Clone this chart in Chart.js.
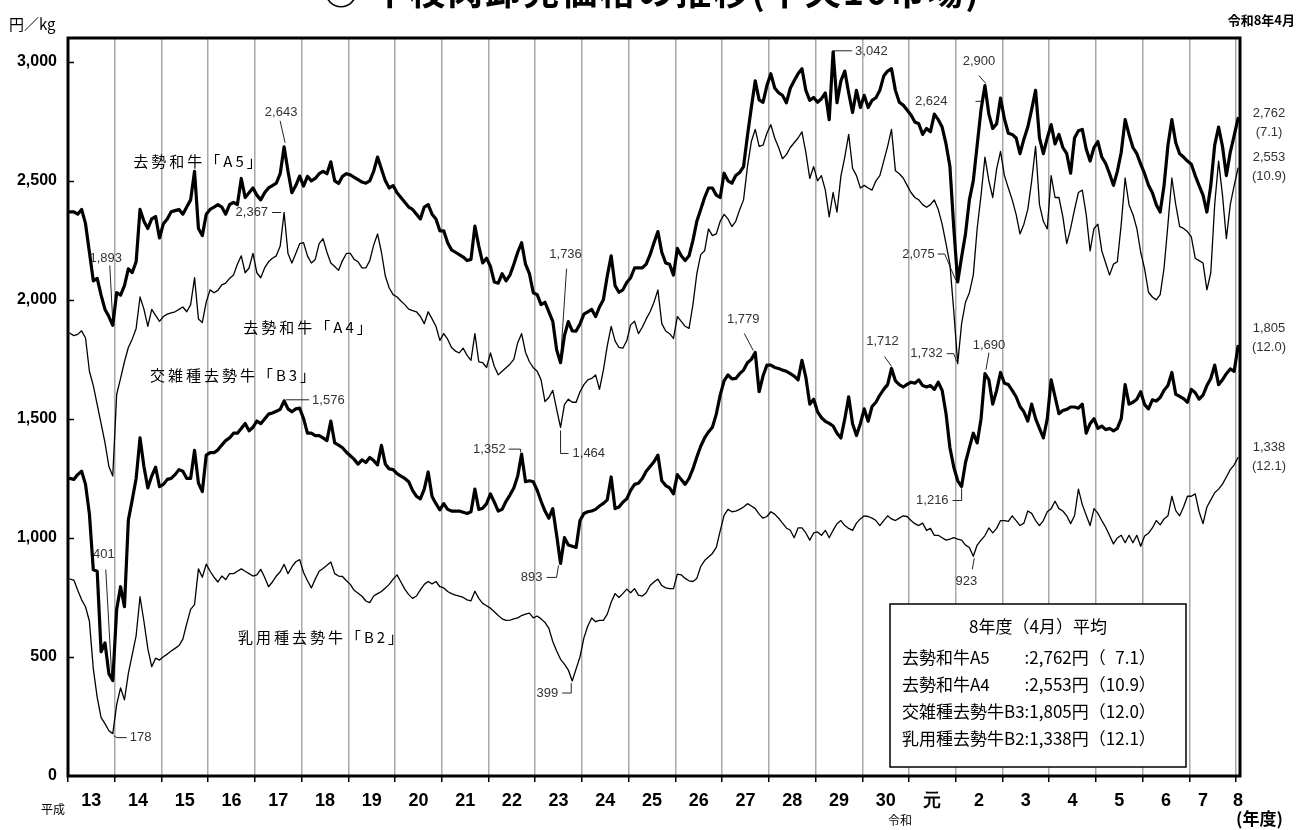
<!DOCTYPE html>
<html>
<head>
<meta charset="utf-8">
<script src="https://cdn.jsdelivr.net/npm/chart.js@4.4.1/dist/chart.umd.min.js"></script>
<style>
  body { margin: 0; background: #fff; }
  #wrap { position: relative; width: 1297px; height: 830px; overflow: hidden; }
</style>
</head>
<body>
<div id="wrap"><canvas id="chart" width="1297" height="830"></canvas></div>
<script>
// fiscal year labels (平成13 .. 令和8), one band of 12 months each
const yearLabels = ["13","14","15","16","17","18","19","20","21","22","23","24","25","26","27","28","29","30","元","2","3","4","5","6","7","8"];
const yTicks = [0, 500, 1000, 1500, 2000, 2500, 3000];

// monthly prices, Apr 2001 .. Apr 2026 (yen/kg)
const a5 = [
  2370,2370,2360,2380,2320,2200,2080,2090,2020,1960,1930,1893, // H13
  2030,2020,2060,2130,2115,2160,2380,2330,2300,2340,2350,2260, // H14
  2320,2340,2370,2375,2380,2360,2390,2420,2540,2300,2270,2360, // H15
  2380,2390,2400,2390,2360,2400,2410,2400,2510,2430,2450,2470, // H16
  2440,2420,2450,2470,2480,2490,2530,2643,2540,2450,2480,2520, // H17
  2478,2519,2500,2510,2530,2540,2530,2580,2500,2489,2519,2530, // H18
  2525,2515,2505,2495,2490,2500,2540,2600,2550,2500,2470,2480, // H19
  2450,2430,2410,2390,2380,2360,2340,2390,2400,2360,2340,2290, // H20
  2290,2240,2210,2200,2190,2180,2165,2170,2310,2226,2155,2175, // H21
  2140,2075,2070,2110,2080,2104,2150,2200,2240,2150,2110,2030, // H22
  2022,1980,1990,1950,1910,1790,1736,1850,1909,1870,1869,1899, // H23
  1940,1950,1960,1930,1970,2001,2100,2185,2060,2032,2042,2073, // H24
  2093,2134,2134,2134,2150,2190,2240,2287,2200,2155,2150,2104, // H25
  2216,2185,2165,2185,2250,2330,2380,2430,2470,2470,2440,2430, // H26
  2532,2500,2490,2522,2535,2560,2690,2808,2920,2840,2830,2900, // H27
  2950,2890,2870,2859,2828,2889,2920,2950,2971,2880,2838,2850, // H28
  2830,2845,2869,2757,3042,2828,2920,2961,2869,2787,2880,2808, // H29
  2859,2808,2838,2849,2880,2940,2961,2971,2880,2830,2818,2798, // H30
  2777,2747,2740,2695,2720,2706,2780,2757,2726,2655,2560,2300, // R1
  2075,2180,2277,2420,2500,2650,2800,2900,2780,2720,2740,2848, // R2
  2760,2700,2695,2680,2614,2675,2726,2800,2880,2680,2614,2680, // R3
  2736,2655,2695,2640,2614,2532,2680,2710,2716,2634,2583,2640, // R4
  2665,2600,2573,2530,2481,2540,2620,2757,2695,2640,2614,2570, // R5
  2530,2481,2450,2400,2369,2481,2650,2757,2660,2614,2600,2583, // R6
  2570,2522,2480,2440,2369,2480,2650,2726,2645,2522,2620,2690, // R7
  2762                                                         // R8
];
const a4 = [
  1860,1850,1855,1870,1840,1700,1640,1560,1480,1400,1300,1260,
  1603,1670,1740,1800,1835,1880,2012,1961,1889,1960,1935,1910,
  1930,1940,1945,1950,1960,1970,1950,1980,2093,1920,1905,1991,
  2042,2030,2040,2063,2070,2090,2104,2150,2185,2114,2134,2195,
  2114,2093,2134,2160,2175,2185,2226,2367,2195,2155,2195,2236,
  2240,2185,2155,2170,2236,2257,2200,2155,2140,2124,2165,2195,
  2195,2170,2160,2134,2134,2165,2230,2277,2200,2100,2050,2022,
  2012,1995,1980,1961,1955,1950,1930,1900,1950,1920,1889,1830,
  1858,1835,1800,1785,1777,1797,1767,1746,1858,1740,1736,1716,
  1777,1720,1685,1700,1715,1730,1750,1820,1858,1780,1740,1715,
  1700,1664,1573,1590,1620,1540,1464,1560,1583,1570,1570,1614,
  1644,1664,1670,1685,1624,1705,1807,1889,1828,1800,1797,1828,
  1895,1910,1858,1885,1920,1950,1990,2042,1900,1869,1858,1838,
  1930,1910,1889,1880,1980,2110,2190,2206,2298,2270,2277,2330,
  2359,2340,2308,2330,2379,2420,2560,2665,2716,2645,2650,2700,
  2736,2680,2640,2593,2610,2640,2660,2680,2706,2620,2510,2560,
  2500,2522,2461,2349,2451,2369,2520,2600,2695,2553,2522,2470,
  2481,2470,2461,2500,2522,2583,2645,2716,2542,2530,2512,2481,
  2451,2430,2420,2400,2389,2400,2420,2380,2318,2236,2150,1950,
  1732,1900,1990,2030,2104,2300,2440,2600,2500,2430,2550,2624,
  2522,2470,2420,2359,2277,2318,2380,2500,2645,2400,2330,2298,
  2522,2430,2430,2350,2236,2300,2379,2451,2461,2359,2206,2300,
  2318,2206,2155,2104,2150,2160,2318,2512,2400,2359,2300,2200,
  2130,2032,2012,2000,2022,2134,2318,2512,2400,2308,2300,2287,
  2265,2175,2165,2155,2042,2114,2400,2583,2440,2257,2400,2480,
  2553
];
const b3 = [
  1250,1246,1266,1280,1225,1100,866,860,522,559,430,401,
  700,795,711,1075,1160,1250,1420,1300,1210,1260,1297,1215,
  1225,1246,1250,1266,1287,1280,1250,1250,1368,1230,1195,1348,
  1358,1358,1370,1390,1409,1420,1440,1440,1460,1481,1450,1465,
  1491,1480,1500,1520,1525,1532,1540,1576,1542,1530,1542,1545,
  1501,1440,1440,1430,1430,1420,1409,1491,1399,1390,1379,1360,
  1345,1330,1310,1328,1317,1338,1325,1307,1389,1310,1290,1287,
  1270,1260,1250,1236,1200,1175,1164,1205,1277,1174,1144,1118,
  1144,1120,1113,1113,1113,1108,1103,1110,1205,1120,1125,1144,
  1185,1150,1113,1120,1154,1180,1210,1260,1352,1236,1240,1236,
  1200,1154,1113,1083,1123,1011,893,1001,970,965,960,1073,
  1103,1110,1113,1120,1134,1145,1160,1256,1123,1130,1150,1164,
  1200,1225,1230,1250,1280,1300,1320,1348,1240,1220,1210,1185,
  1266,1245,1225,1250,1290,1340,1385,1420,1445,1465,1520,1600,
  1660,1685,1668,1670,1690,1705,1736,1750,1779,1614,1680,1726,
  1726,1716,1712,1705,1700,1690,1680,1664,1746,1675,1562,1583,
  1530,1505,1490,1481,1470,1440,1420,1500,1593,1480,1430,1480,
  1542,1490,1552,1570,1600,1624,1644,1712,1660,1644,1634,1645,
  1654,1650,1664,1640,1634,1640,1624,1654,1620,1522,1379,1297,
  1240,1216,1317,1379,1440,1399,1501,1690,1664,1562,1620,1695,
  1650,1644,1620,1593,1552,1530,1491,1562,1501,1460,1420,1500,
  1664,1593,1522,1535,1540,1550,1550,1545,1562,1440,1480,1501,
  1460,1470,1455,1460,1450,1460,1501,1644,1562,1570,1583,1614,
  1560,1542,1580,1575,1590,1620,1640,1695,1603,1595,1585,1570,
  1624,1610,1583,1600,1640,1670,1726,1644,1664,1690,1710,1700,
  1805
];
const b2 = [
  827,823,780,740,711,650,450,330,245,220,190,178,
  300,370,320,431,510,590,753,650,535,459,495,487,
  501,512,525,536,548,575,640,700,720,870,835,890,
  860,835,815,840,825,850,850,860,870,860,850,840,
  845,868,835,795,815,840,858,889,850,878,900,909,
  855,820,790,827,860,872,885,899,850,840,838,820,
  805,780,768,755,735,728,756,766,775,790,805,827,
  845,815,785,762,746,756,782,805,817,807,817,795,
  790,775,766,760,756,750,740,736,776,746,725,715,
  705,690,674,660,654,655,660,664,674,680,684,664,
  672,660,645,620,565,525,490,470,445,399,450,501,
  580,630,664,648,654,654,680,730,766,750,766,785,
  770,787,760,756,770,800,815,827,800,790,787,787,
  848,845,830,820,817,830,880,905,920,935,960,1030,
  1095,1120,1110,1113,1120,1130,1144,1134,1123,1100,1083,1090,
  1110,1100,1083,1062,1042,1032,1001,1042,1042,1021,991,1021,
  1025,1011,1032,1001,1032,1060,1073,1052,1040,1032,1062,1080,
  1093,1090,1083,1073,1052,1073,1093,1080,1073,1083,1093,1090,
  1073,1060,1052,1062,1032,1040,1011,1011,1001,991,995,1001,
  995,991,970,960,923,970,991,1010,1042,1021,1040,1073,
  1073,1070,1093,1073,1052,1062,1113,1103,1073,1052,1073,1110,
  1123,1154,1123,1113,1093,1060,1093,1205,1140,1095,1052,1123,
  1103,1073,1045,1010,975,1000,1011,980,1011,980,1011,965,
  1008,1020,1042,1073,1055,1080,1093,1175,1115,1093,1130,1175,
  1175,1185,1110,1060,1130,1160,1190,1205,1226,1256,1287,1307,
  1338
];
const names = ["去勢和牛A5", "去勢和牛A4", "交雑種去勢牛B3", "乳用種去勢牛B2"];
const lastYoY = [7.1, 10.9, 12.0, 12.1];   // 前年同月比 (%)

const series = [a5, a4, b3, b2];
const fmt = v => v.toLocaleString("en-US");

// x ticks: year boundaries carry the grid, band centres carry the labels
const edgeTicks = yearLabels.map((_, k) => 12 * k - 0.5);
const labelTicks = yearLabels.map((_, k) => k === 24 ? 291 : (k === 25 ? 300 : 12 * k + 5.5));
const labelAt = {};
labelTicks.forEach((v, k) => { labelAt[v] = yearLabels[k]; });
const isEdge = v => edgeTicks.includes(v);

// value callouts: series, month index, text offset, leader (relative to the point)
const notes = [
  { s: 0, i: 11,  dx: -7,  dy: -67, align: "center", lead: [[-3, -60], [0, -4]] },
  { s: 0, i: 55,  dx: -3,  dy: -34, align: "center", lead: [[-4, -26], [1, -4]] },
  { s: 1, i: 55,  dx: -16, dy: 0,   align: "right",  lead: [[-12, 0], [-3, 0]] },
  { s: 2, i: 55,  dx: 28,  dy: 0,   align: "left",   lead: [[2, -1], [25, -1]] },
  { s: 0, i: 126, dx: 5,   dy: -108, align: "center", lead: [[6, -94], [0, -3]] },
  { s: 1, i: 126, dx: 12,  dy: 26,  align: "left",   lead: [[0, 3], [0, 26], [8, 26]] },
  { s: 2, i: 116, dx: -16, dy: -5,  align: "right",  lead: [[-13, -5], [-1, -5], [-1, -2]] },
  { s: 2, i: 126, dx: -18, dy: 14,  align: "right",  lead: [[-14, 14], [-4, 14], [-2, 2]] },
  { s: 3, i: 129, dx: -14, dy: 12,  align: "right",  lead: [[-10, 12], [-1, 12], [-1, 2]] },
  { s: 2, i: 176, dx: -12, dy: -33, align: "center", lead: [[-11, -19], [-2, -2]] },
  { s: 0, i: 196, dx: 22,  dy: 0,   align: "left",   lead: [[1, 3], [1, -1], [19, -1]] },
  { s: 0, i: 235, dx: -6,  dy: -24, align: "center", lead: [[-6, -10], [1, -2]] },
  { s: 1, i: 239, dx: -53, dy: -50, align: "right",  lead: [[-25, -50], [-18, -50]] },
  { s: 0, i: 228, dx: -23, dy: -28, align: "right",  lead: [[-20, -28], [-13, -28], [-2, -2]] },
  { s: 1, i: 228, dx: -15, dy: -10, align: "right",  lead: [[-11, -10], [-4, -10], [-1, -2]] },
  { s: 2, i: 211, dx: -9,  dy: -27, align: "center", lead: [[-7, -12], [0, -2]] },
  { s: 2, i: 229, dx: -13, dy: 14,  align: "right",  lead: [[-9, 14], [0, 14], [0, 2]] },
  { s: 2, i: 235, dx: 4,   dy: -28, align: "center", lead: [[4, -21], [1, -4]] },
  { s: 3, i: 232, dx: -7,  dy: 25,  align: "center", lead: [[-1, 13], [1, 2]] },
  { s: 3, i: 11,  dx: 17,  dy: 4,   align: "left",   lead: [[1, 2], [4, 4], [14, 4]] },
  { s: 2, i: 11,  dx: -9,  dy: -126, align: "center", lead: [[-7, -111], [-1, -4]] }
];

const seriesTitles = [
  { text: "去勢和牛「A5」", x: 199, y: 161 },
  { text: "去勢和牛「A4」", x: 309, y: 327 },
  { text: "交雑種去勢牛「B3」", x: 234, y: 375 },
  { text: "乳用種去勢牛「B2」", x: 322, y: 637 }
];

const jp = '"Noto Sans CJK JP", sans-serif';
const narrow = '"Liberation Sans Narrow", "Liberation Sans", sans-serif';

const decor = {
  id: "decor",
  beforeDatasetsDraw(chart) {
    const ctx = chart.ctx;
    ctx.save();
    // series names
    ctx.fillStyle = "#000";
    ctx.font = "15px " + jp;
    ctx.letterSpacing = "3px";
    ctx.textAlign = "center";
    ctx.textBaseline = "middle";
    seriesTitles.forEach(t => ctx.fillText(t.text, t.x, t.y));
    ctx.letterSpacing = "0px";
    // value callouts
    ctx.font = "13px " + narrow;
    ctx.fillStyle = "#333";
    ctx.strokeStyle = "#222";
    ctx.lineWidth = 1;
    notes.forEach(n => {
      const p = chart.getDatasetMeta(n.s).data[n.i];
      ctx.beginPath();
      n.lead.forEach((q, k) => {
        const x = p.x + q[0], y = p.y + q[1];
        if (k === 0) ctx.moveTo(x, y); else ctx.lineTo(x, y);
      });
      ctx.stroke();
      ctx.textAlign = n.align;
      ctx.fillText(fmt(series[n.s][n.i]), p.x + n.dx, p.y + n.dy);
    });
    ctx.restore();
  },
  afterDatasetsDraw(chart) {
    const ctx = chart.ctx, a = chart.chartArea, ys = chart.scales.y;
    ctx.save();
    // inward y ticks
    ctx.strokeStyle = "#000";
    ctx.lineWidth = 1.5;
    yTicks.slice(1).forEach(v => {
      const y = Math.round(ys.getPixelForValue(v)) + 0.5;
      ctx.beginPath(); ctx.moveTo(a.left, y); ctx.lineTo(a.left + 6, y); ctx.stroke();
    });
    // plot frame
    ctx.lineWidth = 3;
    ctx.strokeRect(a.left, a.top, a.right - a.left, a.bottom - a.top);
    // summary box
    const bx = 890, by = 604, bw = 296, bh = 163;
    ctx.fillStyle = "#fff";
    ctx.fillRect(bx, by, bw, bh);
    ctx.lineWidth = 1.5;
    ctx.strokeRect(bx, by, bw, bh);
    ctx.fillStyle = "#000";
    ctx.font = "17px " + jp;
    ctx.textBaseline = "middle";
    ctx.textAlign = "center";
    ctx.fillText("8年度（4月）平均", bx + bw / 2, 627);
    ctx.textAlign = "left";
    const colX = bx + 12 + ctx.measureText("交雑種去勢牛B3").width;
    names.forEach((nm, k) => {
      const y = 658 + k * 26.7;
      const last = series[k][series[k].length - 1];
      const pct = lastYoY[k].toFixed(1);
      ctx.fillText(nm, bx + 12, y);
      ctx.fillText(":" + fmt(last) + "円（" + (pct.length < 4 ? "\u2007" + pct : pct) + "）", colX, y);
    });
    ctx.restore();
  },
  afterDraw(chart) {
    const ctx = chart.ctx;
    ctx.save();
    ctx.fillStyle = "#000";
    ctx.textBaseline = "alphabetic";
    ctx.textAlign = "center";
    ctx.font = "bold 36px " + jp;
    ctx.letterSpacing = "2px";
    ctx.fillText("○ 牛枝肉卸売価格の推移(中央10市場)", 652, 5);
    ctx.letterSpacing = "0px";
    ctx.textBaseline = "middle";
    ctx.textAlign = "left";
    ctx.font = "15px " + jp;
    ctx.fillText("円／kg", 9, 24);
    ctx.textAlign = "right";
    ctx.font = "bold 13px " + jp;
    ctx.fillText("令和8年4月", 1295, 20);
    ctx.textAlign = "left";
    ctx.font = "12px " + jp;
    ctx.fillText("平成", 41, 809);
    ctx.fillText("令和", 888, 820);
    ctx.font = "bold 17px " + jp;
    ctx.fillText("(年度)", 1236, 819);
    // latest values at the right edge
    ctx.textAlign = "center";
    ctx.font = "13px " + narrow;
    ctx.fillStyle = "#333";
    const sideY = [[113, 132], [157, 176], [328, 347], [447, 466]];
    series.forEach((s, k) => {
      ctx.fillText(fmt(s[s.length - 1]), 1269, sideY[k][0]);
      ctx.fillText("(" + lastYoY[k].toFixed(1) + ")", 1269, sideY[k][1]);
    });
    ctx.restore();
  }
};

const toXY = arr => arr.map((v, i) => ({ x: i, y: v }));
const line = (arr, w) => ({
  data: toXY(arr), borderColor: "#000", borderWidth: w, pointRadius: 0,
  tension: 0, borderJoinStyle: "round", borderCapStyle: "round", fill: false
});

new Chart(document.getElementById("chart"), {
  type: "line",
  data: { datasets: [line(a5, 3.2), line(a4, 1.3), line(b3, 3.2), line(b2, 1.3)] },
  options: {
    responsive: false,
    animation: false,
    layout: { padding: { top: 38, right: 57, left: 0, bottom: 0 } },
    plugins: { legend: { display: false }, tooltip: { enabled: false } },
    scales: {
      x: {
        type: "linear", min: -0.5, max: 300.5,
        afterBuildTicks: s => { s.ticks = edgeTicks.concat(labelTicks).sort((p, q) => p - q).map(v => ({ value: v })); },
        afterFit: s => { s.height = 54; },
        border: { display: false },
        grid: {
          color: c => (c.tick && isEdge(c.tick.value)) ? "#a8a8a8" : "rgba(0,0,0,0)",
          tickColor: c => (c.tick && isEdge(c.tick.value)) ? "#000" : "rgba(0,0,0,0)",
          lineWidth: 1.5, tickLength: 6, tickWidth: 1.5
        },
        ticks: {
          autoSkip: false, maxRotation: 0, padding: 8, color: "#000",
          font: { family: narrow, size: 18, weight: "bold" },
          callback: v => labelAt[v] !== undefined ? labelAt[v] : ""
        }
      },
      y: {
        min: 0, max: 3100,
        afterBuildTicks: s => { s.ticks = yTicks.map(v => ({ value: v })); },
        afterFit: s => { s.width = 68; },
        border: { display: false },
        grid: { drawOnChartArea: false, drawTicks: false },
        ticks: {
          padding: 11, color: "#000",
          font: { family: narrow, size: 16, weight: "bold" },
          callback: v => fmt(v)
        }
      }
    }
  },
  plugins: [decor]
});
</script>
</body>
</html>
